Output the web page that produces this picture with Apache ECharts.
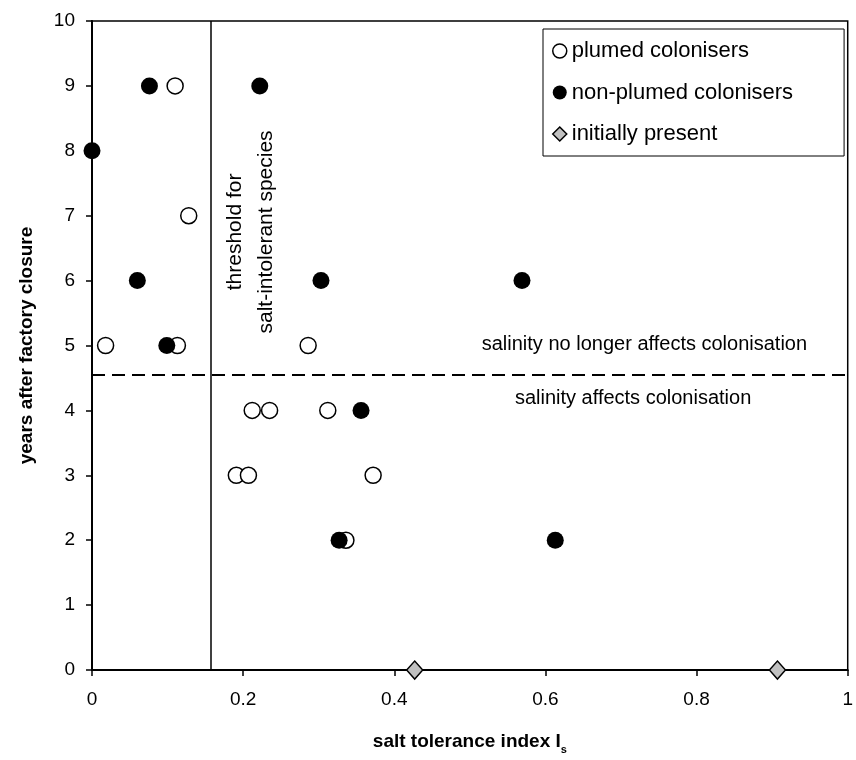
<!DOCTYPE html>
<html>
<head>
<meta charset="utf-8">
<script src="https://cdn.jsdelivr.net/npm/echarts@6/dist/echarts.min.js"></script>
<style>html,body{margin:0;padding:0;background:#fff;}#c{width:856px;height:760px;}</style>
</head>
<body>
<div id="c"></div>
<script>
// ---- data ----
const plumedX = [0.110, 0.128, 0.018, 0.113, 0.286, 0.212, 0.235, 0.312, 0.191, 0.207, 0.372, 0.336];
const plumedY = [9, 7, 5, 5, 5, 4, 4, 4, 3, 3, 3, 2];
const nonPlumedX = [0.076, 0.000, 0.222, 0.060, 0.099, 0.303, 0.569, 0.356, 0.327, 0.613];
const nonPlumedY = [9, 8, 9, 6, 5, 6, 6, 4, 2, 2];
const initialX = [0.427, 0.907];
const initialY = [0, 0];
const thresholdX = 0.157;
const salinityY = 4.55;
const seriesNames = ['plumed colonisers', 'non-plumed colonisers', 'initially present'];
const xTicks = ['0', '0.2', '0.4', '0.6', '0.8', '1'];
const yTicks = ['0','1','2','3','4','5','6','7','8','9','10'];

const FONT = '"Liberation Sans", Arial, sans-serif';
const zip = (xs, ys) => xs.map((x, i) => [x, ys[i]]);

const chart = echarts.init(document.getElementById('c'), null, {renderer: 'canvas'});
const option = {
  animation: false,
  backgroundColor: '#fff',
  grid: {left: 92, right: 1, top: 21, bottom: 83, show: true, borderColor: '#000', borderWidth: 1.5, backgroundColor: 'transparent'},
  legend: {
    orient: 'vertical', left: 543, top: 29,
    padding: [10, 51, 10, 9],
    borderColor: '#000', borderWidth: 1, backgroundColor: '#fff',
    itemWidth: 14, itemHeight: 14, itemGap: 17.5, itemTextGap: 8,
    textStyle: {fontFamily: FONT, fontSize: 22, color: '#000', lineHeight: 24},
    data: [
      {name: seriesNames[0], icon: 'circle', itemStyle: {color: '#fff', borderColor: '#000', borderWidth: 1.5}},
      {name: seriesNames[1], icon: 'circle', itemStyle: {color: '#000'}},
      {name: seriesNames[2], icon: 'diamond', itemStyle: {color: '#c0c0c0', borderColor: '#000', borderWidth: 1.5}}
    ]
  },
  xAxis: {
    type: 'value', min: 0, max: 1, interval: 0.2,
    name: '{t|salt tolerance index I}{s|s}', nameLocation: 'middle', nameGap: 58,
    nameTextStyle: {rich: {
      t: {fontFamily: FONT, fontSize: 19, fontWeight: 'bold', color: '#000'},
      s: {fontFamily: FONT, fontSize: 11, fontWeight: 'bold', color: '#000', padding: [16, 0, 0, 0]}
    }},
    axisLine: {show: true, onZero: false, lineStyle: {color: '#000', width: 2}},
    axisTick: {show: true, inside: false, length: 6, lineStyle: {color: '#000', width: 1.5}},
    axisLabel: {fontFamily: FONT, fontSize: 19, color: '#000', margin: 20,
      formatter: v => xTicks[Math.round(v / 0.2)]},
    splitLine: {show: false}
  },
  yAxis: {
    type: 'value', min: 0, max: 10, interval: 1,
    name: 'years after factory closure', nameLocation: 'middle', nameGap: 56, nameRotate: 90,
    nameTextStyle: {fontFamily: FONT, fontSize: 19, fontWeight: 'bold', color: '#000'},
    axisLine: {show: true, onZero: false, lineStyle: {color: '#000', width: 2}},
    axisTick: {show: true, inside: false, length: 6, lineStyle: {color: '#000', width: 1.5}},
    axisLabel: {fontFamily: FONT, fontSize: 19, color: '#000', margin: 17,
      formatter: v => yTicks[Math.round(v)]},
    splitLine: {show: false}
  },
  series: [
    {
      name: seriesNames[0], type: 'scatter', symbol: 'circle', symbolSize: 16, z: 3,
      itemStyle: {color: '#fff', borderColor: '#000', borderWidth: 1.5, opacity: 1},
      data: zip(plumedX, plumedY),
      markLine: {
        silent: true, symbol: 'none', label: {show: false}, z: 1,
        data: [
          [{coord: [thresholdX, 0], lineStyle: {type: 'solid', width: 1.5, color: '#000'}}, {coord: [thresholdX, 10]}],
          [{coord: [0, salinityY], lineStyle: {type: [13, 7], width: 2, color: '#000'}}, {coord: [1, salinityY]}]
        ]
      }
    },
    {
      name: seriesNames[1], type: 'scatter', symbol: 'circle', symbolSize: 17, z: 4,
      itemStyle: {color: '#000', opacity: 1},
      data: zip(nonPlumedX, nonPlumedY)
    },
    {
      name: seriesNames[2], type: 'scatter', symbol: 'diamond', symbolSize: [16, 18], z: 5,
      itemStyle: {color: '#c0c0c0', borderColor: '#000', borderWidth: 1.5, opacity: 1},
      data: zip(initialX, initialY)
    }
  ]
};
chart.setOption(option);

// annotation texts anchored in data coordinates
const p = c => chart.convertToPixel({gridIndex: 0}, c);
const pT = p([0.21, 6.75]);
const pA = p([0.731, 5.02]);
const pB = p([0.716, 4.19]);
chart.setOption({
  graphic: [
    {type: 'text', x: pT[0], y: pT[1], rotation: Math.PI / 2, z: 10,
      style: {text: 'threshold for\nsalt-intolerant species', font: '21px ' + FONT, fill: '#000',
        align: 'center', verticalAlign: 'middle', lineHeight: 31}},
    {type: 'text', x: pA[0], y: pA[1], z: 10,
      style: {text: 'salinity no longer affects colonisation', font: '20px ' + FONT, fill: '#000',
        align: 'center', verticalAlign: 'middle'}},
    {type: 'text', x: pB[0], y: pB[1], z: 10,
      style: {text: 'salinity affects colonisation', font: '20px ' + FONT, fill: '#000',
        align: 'center', verticalAlign: 'middle'}}
  ]
});
</script>
</body>
</html>
